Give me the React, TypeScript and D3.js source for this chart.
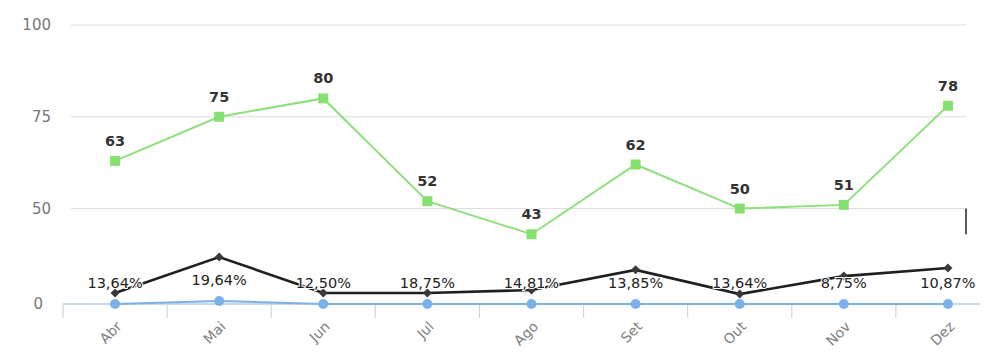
import React from "react";
import * as d3 from "d3";

const categories = ["Abr", "Mai", "Jun", "Jul", "Ago", "Set", "Out", "Nov", "Dez"];
const greenValues = [63, 75, 80, 52, 43, 62, 50, 51, 78];
const greenLabels = ["63", "75", "80", "52", "43", "62", "50", "51", "78"];
const darkValues = [27.0, 36.8, 27.0, 27.0, 27.8, 33.3, 26.7, 31.6, 33.8];
const blueValues = [24, 24.8, 24, 24, 24, 24, 24, 24, 24];
const blueLabels = ["13,64%", "19,64%", "12,50%", "18,75%", "14,81%", "13,85%", "13,64%", "8,75%", "10,87%"];
const yTickValues = [24, 50, 75, 100];
const yTickLabels = ["0", "50", "75", "100"];

const W = 986;
const H = 358;
const FONT = "'DejaVu Sans', Verdana, sans-serif";

export default function App() {
  const x = d3.scaleBand<string>().domain(categories).range([63, 1000]).padding(0);
  const y = d3.scaleLinear().domain([24, 100]).range([304, 25]);
  const cx = (c: string) => (x(c) as number) + x.bandwidth() / 2;

  const line = d3
    .line<number>()
    .x((_, i) => cx(categories[i]))
    .y((v) => y(v));

  const gridLeft = 71;
  const gridRight = 966;
  const axisRight = 980;

  return (
    <svg
      width={W}
      height={H}
      style={{ position: "absolute", left: 0, top: 0, background: "#fff" }}
      fontFamily={FONT}
    >
      <rect width={W} height={H} fill="#fff" />
      {yTickValues.slice(1).map((t) => (
        <line key={t} x1={gridLeft} x2={gridRight} y1={y(t)} y2={y(t)} stroke="#dcdcdc" strokeWidth={1} />
      ))}
      {yTickValues.map((t, i) => (
        <text
          key={"yl" + t}
          x={i === 0 ? 43 : 51}
          y={y(t)}
          dy="0.35em"
          textAnchor="end"
          fontSize={15}
          fill="#777"
        >
          {yTickLabels[i]}
        </text>
      ))}
      <line x1={63} x2={axisRight} y1={y(24)} y2={y(24)} stroke="#b7cbe6" strokeWidth={1.5} />
      {categories.map((c) => (
        <line key={"tk" + c} x1={x(c) as number} x2={x(c) as number} y1={y(24)} y2={y(24) + 14} stroke="#cfd6e0" strokeWidth={1.2} />
      ))}
      {categories.map((c) => (
        <text
          key={"xl" + c}
          transform={`translate(${cx(c) + 4},${y(24) + 20}) rotate(-45)`}
          textAnchor="end"
          dy="0.35em"
          fontSize={14}
          fill="#808080"
        >
          {c}
        </text>
      ))}
      <line x1={gridRight} x2={gridRight} y1={y(50)} y2={y(43)} stroke="#222" strokeWidth={1.5} />
      <path d={line(greenValues) || ""} fill="none" stroke="#8fe07c" strokeWidth={2} />
      {greenValues.map((v, i) => (
        <rect key={"gm" + i} x={cx(categories[i]) - 5} y={y(v) - 5} width={10} height={10} fill="#86e070" />
      ))}
      <path d={line(darkValues) || ""} fill="none" stroke="#1f1f21" strokeWidth={2.6} />
      {darkValues.map((v, i) => {
        const px = cx(categories[i]);
        const py = y(v);
        return (
          <path key={"dm" + i} d={`M${px},${py - 4.5}L${px + 4.5},${py}L${px},${py + 4.5}L${px - 4.5},${py}Z`} fill="#3a3a3e" />
        );
      })}
      <path d={line(blueValues) || ""} fill="none" stroke="#7cb1e8" strokeWidth={2} />
      {blueValues.map((v, i) => (
        <circle key={"bm" + i} cx={cx(categories[i])} cy={y(v)} r={5} fill="#7cb1e8" />
      ))}
      {greenValues.map((v, i) => (
        <text
          key={"gl" + i}
          x={cx(categories[i])}
          y={y(v) - 15}
          textAnchor="middle"
          fontSize={14.5}
          fontWeight="bold"
          fill="#333"
          stroke="#fff"
          strokeWidth={2}
          paintOrder="stroke"
        >
          {greenLabels[i]}
        </text>
      ))}
      {blueValues.map((v, i) => (
        <text
          key={"bl" + i}
          x={cx(categories[i])}
          y={y(v) - 16}
          textAnchor="middle"
          fontSize={14.5}
          fill="#222"
          stroke="#fff"
          strokeWidth={2}
          paintOrder="stroke"
        >
          {blueLabels[i]}
        </text>
      ))}
    </svg>
  );
}
